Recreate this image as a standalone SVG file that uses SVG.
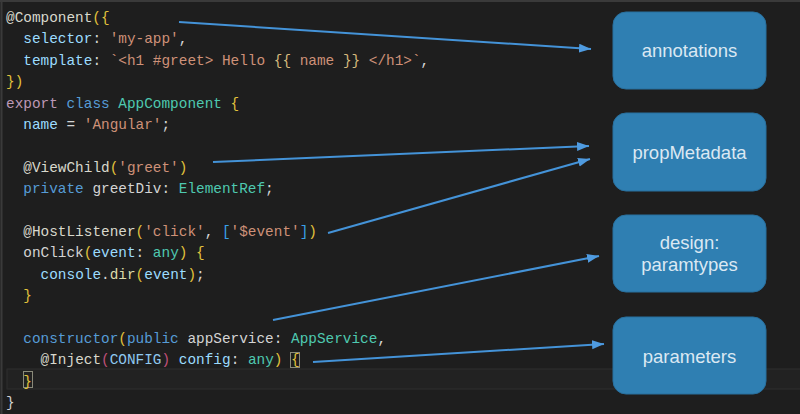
<svg xmlns="http://www.w3.org/2000/svg" width="800" height="414" viewBox="0 0 800 414">
<style>
.code{font-family:"Liberation Mono","DejaVu Sans Mono",monospace;font-size:14.4px;white-space:pre}
.w{fill:#d4d4d4}.d{fill:#d8d8cc}.lb{fill:#9cdcfe}.s{fill:#ce9178}.y{fill:#e2c23c}.k{fill:#569cd6}.t{fill:#4ec9b0}.p{fill:#bd98b6}.m{fill:#c0507a}.b{fill:#3a9fe8}.f{fill:#dcdcaa}.c{fill:#8fc8ef}.g{fill:#d7ba7d}
.node rect{fill:#2f7fb2;stroke:#29709e;stroke-width:1}
.node text{font-family:"Liberation Sans",Arial,sans-serif;font-size:18.5px;fill:#dbe8f2;text-anchor:middle}
.conn line{stroke:#4493d8;stroke-width:2;fill:none}
</style>
<defs>
<marker id="ah" markerUnits="userSpaceOnUse" markerWidth="13" markerHeight="10" refX="12" refY="4.5" orient="auto">
<path d="M0,0 L12,4.5 L0,9 z" fill="#4f9be0"/>
</marker>
</defs>
<rect x="0" y="0" width="800" height="414" fill="#1e1e1e"/>
<line x1="0" y1="1" x2="800" y2="1" stroke="#3a3a3a" stroke-width="2"/>
<line x1="1.5" y1="0" x2="1.5" y2="414" stroke="#3a3a3a" stroke-width="2"/>
<rect x="7" y="369" width="800" height="20" fill="#222222" stroke="#2e2e2e" stroke-width="1"/>
<rect x="290.5" y="352.5" width="9" height="15" fill="none" stroke="#8a8a7a" stroke-width="1"/>
<rect x="23.5" y="371.5" width="9" height="16" fill="none" stroke="#8a8a7a" stroke-width="1"/>
<g id="code" class="code">
<text x="6" y="22"><tspan class="d">@Component</tspan><tspan class="y">({</tspan></text>
<text x="23.3" y="43.4"><tspan class="lb">selector</tspan><tspan class="w">: </tspan><tspan class="s">'my-app'</tspan><tspan class="w">,</tspan></text>
<text x="23.3" y="64.8"><tspan class="lb">template</tspan><tspan class="w">: </tspan><tspan class="s">`&lt;h1 #greet&gt; Hello </tspan><tspan class="g">{{</tspan><tspan class="s"> name </tspan><tspan class="g">}}</tspan><tspan class="s"> &lt;/h1&gt;`</tspan><tspan class="w">,</tspan></text>
<text x="6" y="86.2"><tspan class="y">})</tspan></text>
<text x="6" y="107.6"><tspan class="p">export</tspan><tspan class="w"> </tspan><tspan class="k">class</tspan><tspan class="w"> </tspan><tspan class="t">AppComponent</tspan><tspan class="w"> </tspan><tspan class="y">{</tspan></text>
<text x="23.3" y="129"><tspan class="lb">name</tspan><tspan class="w"> = </tspan><tspan class="s">'Angular'</tspan><tspan class="w">;</tspan></text>
<text x="23.3" y="171.8"><tspan class="d">@ViewChild</tspan><tspan class="y">(</tspan><tspan class="s">'greet'</tspan><tspan class="y">)</tspan></text>
<text x="23.3" y="193.2"><tspan class="k">private</tspan><tspan class="w"> greetDiv: </tspan><tspan class="t">ElementRef</tspan><tspan class="w">;</tspan></text>
<text x="23.3" y="236"><tspan class="d">@HostListener</tspan><tspan class="y">(</tspan><tspan class="s">'click'</tspan><tspan class="w">, </tspan><tspan class="b">[</tspan><tspan class="s">'$event'</tspan><tspan class="b">]</tspan><tspan class="y">)</tspan></text>
<text x="23.3" y="257.4"><tspan class="w">onClick</tspan><tspan class="y">(</tspan><tspan class="lb">event</tspan><tspan class="w">: </tspan><tspan class="t">any</tspan><tspan class="y">)</tspan><tspan class="w"> </tspan><tspan class="y">{</tspan></text>
<text x="40.6" y="278.8"><tspan class="lb">console</tspan><tspan class="w">.</tspan><tspan class="f">dir</tspan><tspan class="y">(</tspan><tspan class="lb">event</tspan><tspan class="y">)</tspan><tspan class="w">;</tspan></text>
<text x="23.3" y="300.2"><tspan class="y">}</tspan></text>
<text x="23.3" y="343"><tspan class="k">constructor</tspan><tspan class="y">(</tspan><tspan class="k">public</tspan><tspan class="w"> appService: </tspan><tspan class="t">AppService</tspan><tspan class="w">,</tspan></text>
<text x="40.6" y="364.4"><tspan class="d">@Inject</tspan><tspan class="m">(</tspan><tspan class="c">CONFIG</tspan><tspan class="m">)</tspan><tspan class="w"> </tspan><tspan class="lb">config</tspan><tspan class="w">: </tspan><tspan class="t">any</tspan><tspan class="y">)</tspan><tspan class="w"> </tspan><tspan class="y">{</tspan></text>
<text x="23.3" y="385.8"><tspan class="y">}</tspan></text>
<text x="6" y="407.2"><tspan class="w">}</tspan></text>
</g>
<g id="connectors" class="conn">
<line x1="179" y1="22" x2="591" y2="49" marker-end="url(#ah)"/>
<line x1="213" y1="162" x2="589" y2="146" marker-end="url(#ah)"/>
<line x1="328" y1="233" x2="590" y2="159" marker-end="url(#ah)"/>
<line x1="273" y1="320" x2="599" y2="256" marker-end="url(#ah)"/>
<line x1="313" y1="362" x2="604" y2="344" marker-end="url(#ah)"/>
</g>
<g id="annotations" class="node">
<rect x="613" y="12" width="153" height="77" rx="13"/>
<text x="689.5" y="57">annotations</text>
</g>
<g id="propMetadata" class="node">
<rect x="613" y="113" width="153" height="78" rx="13"/>
<text x="689.5" y="159">propMetadata</text>
</g>
<g id="designParamtypes" class="node">
<rect x="613" y="215" width="153" height="77" rx="13"/>
<text x="689.5" y="249">design:</text>
<text x="689.5" y="271">paramtypes</text>
</g>
<g id="parameters" class="node">
<rect x="613" y="317" width="153" height="77" rx="13"/>
<text x="689.5" y="363">parameters</text>
</g>
</svg>
